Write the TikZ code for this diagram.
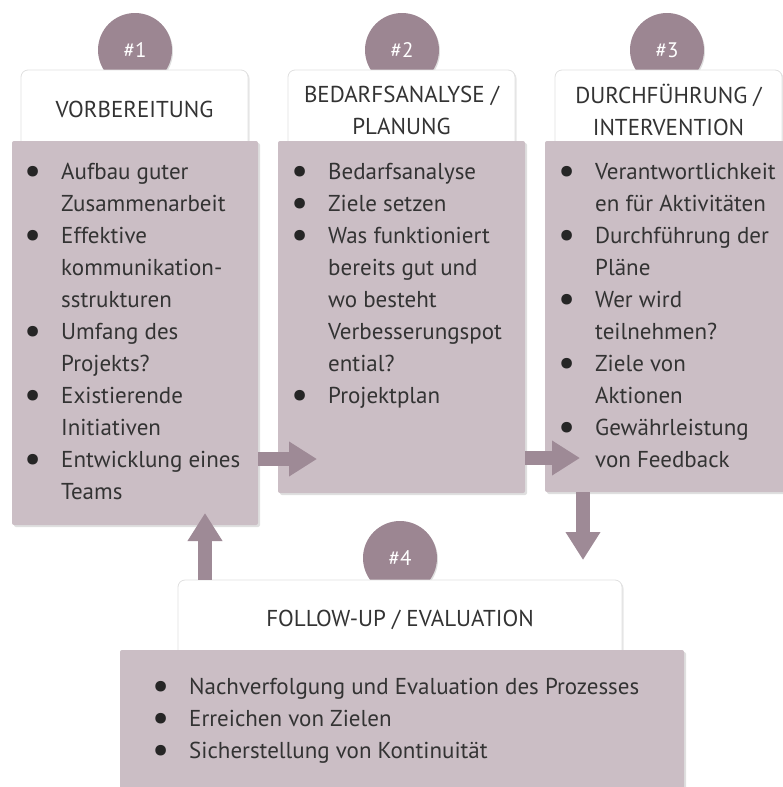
\documentclass[tikz,border=0pt]{standalone}
\usepackage{fontspec}
\setmainfont{PT Sans}
\usetikzlibrary{arrows.meta,shadows}
\definecolor{mauve}{HTML}{9C8692}
\definecolor{arrowmauve}{HTML}{9E8A96}
\definecolor{boxlight}{HTML}{E3DBDF}
\definecolor{boxdark}{HTML}{CBBEC5}
\definecolor{textgray}{HTML}{333333}
\newcommand{\bul}{\makebox[37pt][l]{\raisebox{-4pt}[0pt][0pt]{\fontsize{38}{32}\selectfont\color{black!85}\textbullet}}}

\begin{document}
\begin{tikzpicture}[x=1pt,y=-1pt,font=\fontsize{23}{32}\selectfont,text=textgray]
      \tikzstyle{num node}=[circle,fill=mauve,minimum size=74pt,inner sep=0,text=white,font=\fontsize{21}{21}\selectfont,drop shadow={shadow xshift=1pt,shadow yshift=-1.5pt,opacity=.25}]
      \tikzstyle{head node}=[rectangle,rounded corners=7pt,fill=white,draw=black!12,line width=.8pt,align=center,inner sep=0,drop shadow={shadow xshift=1.5pt,shadow yshift=-1.5pt,opacity=.2}]
      \tikzstyle{body node}=[rectangle,rounded corners=2pt,left color=boxdark,middle color=boxlight,right color=boxdark,drop shadow={shadow xshift=2pt,shadow yshift=-2pt,opacity=.25}]
      \tikzstyle{list node}=[anchor=base west,inner sep=0]
      \tikzstyle{flow}=[draw=arrowmauve,line width=14pt,-{Triangle[length=28pt,width=33pt]}]
      \useasboundingbox (0,0) rectangle (783,787);
      \node(c1)[num node] at (135,50) {\#1};
      \node(c2)[num node] at (402,50) {\#2};
      \node(c3)[num node] at (667,50) {\#3};
      \node(c4)[num node] at (400,558) {\#4};
      \node(h1)[head node,minimum width=227pt,minimum height=78pt] at (134.5,109) {VORBEREITUNG};
      \node(h2)[head node,minimum width=227pt,minimum height=80pt] at (401.5,110) {BEDARFSANALYSE /\\PLANUNG};
      \node(h3)[head node,minimum width=227pt,minimum height=80pt] at (668.5,110) {DURCHFÜHRUNG /\\INTERVENTION};
      \node(h4)[head node,minimum width=444pt,minimum height=80pt] at (400,620) {FOLLOW-UP / EVALUATION};
      \node(b1)[body node,minimum width=246pt,minimum height=384pt] at (135,333) {};
      \node(b2)[body node,minimum width=247pt,minimum height=352pt] at (401.5,317) {};
      \node(b3)[body node,minimum width=252pt,minimum height=351pt] at (671,316.5) {};
      \node(b4)[body node,minimum width=564pt,minimum height=150pt] at (402,725) {};
      \node(l1)[list node] at (24,179) {\begin{tabular}[t]{@{}l@{}l@{}}
          \bul & Aufbau guter\\
           & Zusammenarbeit\\
          \bul & Effektive\\
           & kommunikation-\\
           & sstrukturen\\
          \bul & Umfang des\\
           & Projekts?\\
          \bul & Existierende\\
           & Initiativen\\
          \bul & Entwicklung eines\\
           & Teams
        \end{tabular}};
      \node(l2)[list node] at (291,179) {\begin{tabular}[t]{@{}l@{}l@{}}
          \bul & Bedarfsanalyse\\
          \bul & Ziele setzen\\
          \bul & Was funktioniert\\
           & bereits gut und\\
           & wo besteht\\
           & Verbesserungspot\\
           & ential?\\
          \bul & Projektplan
        \end{tabular}};
      \node(l3)[list node] at (558,179) {\begin{tabular}[t]{@{}l@{}l@{}}
          \bul & Verantwortlichkeit\\
           & en für Aktivitäten\\
          \bul & Durchführung der\\
           & Pläne\\
          \bul & Wer wird\\
           & teilnehmen?\\
          \bul & Ziele von\\
           & Aktionen\\
          \bul & Gewährleistung\\
           & von Feedback
        \end{tabular}};
      \node(l4)[list node] at (152,694) {\begin{tabular}[t]{@{}l@{}l@{}}
          \bul & Nachverfolgung und Evaluation des Prozesses\\
          \bul & Erreichen von Zielen\\
          \bul & Sicherstellung von Kontinuität
        \end{tabular}};
      \coordinate(t12) at (317,459);
      \coordinate(t23) at (580,458);
      \coordinate(t34) at (583,560);
      \coordinate(t41) at (205,513);
      \draw[flow] (b1.east |- t12) -- (t12);
      \draw[flow] (b2.east |- t23) -- (t23);
      \draw[flow] (b3.south -| t34) -- (t34);
      \draw[flow] (h4.north -| t41) -- (t41);
\end{tikzpicture}
\end{document}
